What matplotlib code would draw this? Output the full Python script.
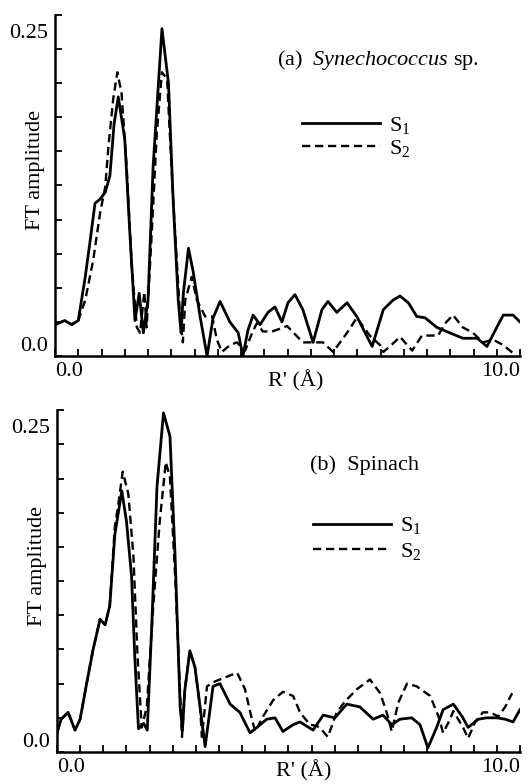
import numpy as np
import matplotlib
matplotlib.use('Agg')
from matplotlib import pyplot as plt
from matplotlib.ticker import MultipleLocator

# panel (a) Synechococcus sp. -- S1 (solid)
r_a_s1 = [0.0, 0.21, 0.36, 0.5, 0.65, 0.75, 0.86, 0.97, 1.08, 1.18, 1.27, 1.36, 1.5, 1.61,
          1.72, 1.81, 1.9, 2.0, 2.11, 2.3, 2.44, 2.54, 2.65, 2.71, 2.76, 2.87, 2.97, 3.12,
          3.27, 3.4, 3.55, 3.76, 3.94, 4.04, 4.15, 4.26, 4.41, 4.58, 4.73, 4.88, 5.01, 5.16,
          5.33, 5.55, 5.74, 5.87, 6.06, 6.28, 6.49, 6.82, 7.06, 7.27, 7.42, 7.6, 7.78, 7.96,
          8.21, 8.49, 8.77, 9.08, 9.29, 9.5, 9.64, 9.85, 10.0]
ft_a_s1 = [0.023, 0.026, 0.023, 0.026, 0.058, 0.083, 0.112, 0.115, 0.12, 0.132, 0.17, 0.19,
           0.159, 0.09, 0.026, 0.046, 0.017, 0.041, 0.139, 0.24, 0.20, 0.115, 0.041, 0.017,
           0.046, 0.079, 0.062, 0.029, 0.0, 0.028, 0.040, 0.025, 0.017, 0.0, 0.019, 0.030,
           0.023, 0.032, 0.036, 0.025, 0.039, 0.045, 0.034, 0.010, 0.034, 0.040, 0.032, 0.039,
           0.029, 0.007, 0.034, 0.041, 0.044, 0.039, 0.029, 0.028, 0.021, 0.017, 0.013, 0.013,
           0.007, 0.021, 0.030, 0.030, 0.025]

# panel (a) -- S2 (dashed)
r_a_s2 = [0.0, 0.21, 0.36, 0.5, 0.65, 0.82, 0.97, 1.08, 1.15, 1.25, 1.34, 1.43, 1.54, 1.65,
          1.76, 1.83, 1.92, 1.97, 2.08, 2.19, 2.3, 2.41, 2.54, 2.69, 2.75, 2.8, 2.94, 3.05,
          3.23, 3.38, 3.48, 3.59, 3.76, 3.91, 4.09, 4.24, 4.34, 4.47, 4.67, 4.84, 4.99, 5.16,
          5.33, 5.55, 5.76, 5.98, 6.13, 6.28, 6.49, 6.77, 6.99, 7.06, 7.2, 7.42, 7.68, 7.89,
          8.24, 8.39, 8.56, 8.77, 8.99, 9.2, 9.42, 9.64, 9.89]
ft_a_s2 = [0.023, 0.026, 0.023, 0.026, 0.041, 0.07, 0.105, 0.124, 0.154, 0.188, 0.208, 0.193,
           0.139, 0.066, 0.021, 0.017, 0.047, 0.021, 0.09, 0.164, 0.208, 0.203, 0.115, 0.029,
           0.01, 0.041, 0.058, 0.041, 0.029, 0.029, 0.012, 0.003, 0.008, 0.010, 0.004, 0.017,
           0.024, 0.018, 0.018, 0.020, 0.022, 0.016, 0.010, 0.010, 0.010, 0.003, 0.010, 0.017,
           0.028, 0.015, 0.008, 0.003, 0.007, 0.014, 0.004, 0.015, 0.015, 0.024, 0.030, 0.021,
           0.017, 0.010, 0.012, 0.008, 0.001]

# panel (b) Spinach -- S1 (solid)
r_b_s1 = [0.0, 0.09, 0.24, 0.39, 0.5, 0.64, 0.78, 0.93, 1.04, 1.14, 1.25, 1.4, 1.5, 1.61,
          1.68, 1.76, 1.87, 1.95, 2.05, 2.16, 2.3, 2.44, 2.55, 2.66, 2.71, 2.76, 2.87, 2.98,
          3.09, 3.2, 3.37, 3.52, 3.74, 3.95, 4.17, 4.32, 4.53, 4.71, 4.88, 5.1, 5.25, 5.53,
          5.75, 6.0, 6.26, 6.54, 6.83, 7.04, 7.23, 7.41, 7.66, 7.84, 8.01, 8.2, 8.34, 8.56,
          8.75, 8.88, 9.1, 9.28, 9.5, 9.68, 9.85, 10.0]
ft_b_s1 = [0.014, 0.024, 0.029, 0.016, 0.024, 0.050, 0.075, 0.097, 0.093, 0.107, 0.159, 0.191,
           0.169, 0.129, 0.07, 0.017, 0.021, 0.016, 0.095, 0.194, 0.248, 0.231, 0.144, 0.033,
           0.016, 0.045, 0.074, 0.062, 0.033, 0.004, 0.048, 0.05, 0.035, 0.029, 0.014, 0.018,
           0.024, 0.025, 0.015, 0.020, 0.022, 0.016, 0.027, 0.025, 0.035, 0.033, 0.024, 0.027,
           0.020, 0.024, 0.025, 0.020, 0.003, 0.018, 0.031, 0.035, 0.026, 0.018, 0.024, 0.025,
           0.025, 0.024, 0.022, 0.031]

# panel (b) -- S2 (dashed)
r_b_s2 = [0.0, 0.09, 0.24, 0.39, 0.5, 0.64, 0.78, 0.93, 1.04, 1.14, 1.25, 1.32, 1.42, 1.54,
          1.65, 1.74, 1.83, 1.94, 2.08, 2.22, 2.35, 2.44, 2.55, 2.7, 2.76, 2.87, 2.98, 3.09,
          3.13, 3.24, 3.37, 3.59, 3.89, 4.06, 4.21, 4.28, 4.45, 4.67, 4.88, 5.1, 5.25, 5.46,
          5.62, 5.75, 5.85, 6.04, 6.22, 6.48, 6.76, 6.98, 7.12, 7.23, 7.37, 7.56, 7.77, 8.06,
          8.24, 8.34, 8.49, 8.56, 8.77, 8.88, 9.03, 9.2, 9.35, 9.53, 9.68, 9.83]
ft_b_s2 = [0.014, 0.024, 0.029, 0.016, 0.024, 0.050, 0.075, 0.097, 0.093, 0.107, 0.165, 0.18,
           0.205, 0.189, 0.144, 0.07, 0.018, 0.033, 0.107, 0.169, 0.212, 0.201, 0.13, 0.011,
           0.045, 0.074, 0.062, 0.033, 0.011, 0.048, 0.051, 0.054, 0.058, 0.046, 0.024, 0.015,
           0.026, 0.038, 0.044, 0.041, 0.029, 0.020, 0.019, 0.015, 0.011, 0.029, 0.037, 0.046,
           0.053, 0.043, 0.029, 0.015, 0.036, 0.05, 0.048, 0.041, 0.026, 0.014, 0.024, 0.03,
           0.018, 0.01, 0.022, 0.029, 0.029, 0.026, 0.033, 0.043]

panels = [
    ((r_a_s1, ft_a_s1), (r_a_s2, ft_a_s2), "(a)  $\\mathit{Synechococcus}$ sp."),
    ((r_b_s1, ft_b_s1), (r_b_s2, ft_b_s2), "(b)  Spinach"),
]

FS = 16


def main():
    plt.rcParams['font.family'] = ['Liberation Serif', 'DejaVu Serif']
    plt.rcParams['mathtext.fontset'] = 'custom'
    plt.rcParams['mathtext.rm'] = 'Liberation Serif'
    plt.rcParams['mathtext.it'] = 'Liberation Serif:italic'

    fig = plt.figure(figsize=(5.31, 7.84), dpi=100)

    # axes rectangles (left, bottom, width, height) in figure fraction
    rects = [(0.1036, 0.5459, 0.8757, 0.435), (0.1073, 0.0408, 0.872, 0.436)]
    title_pos = [(0.477, 0.868), (0.546, 0.839)]
    legend_pos = [(0.498, 0.752), (0.519, 0.738)]
    legend_gap = [0.08, 0.22]

    for i, (s1, s2, title) in enumerate(panels):
        ax = fig.add_axes(rects[i])
        ax.plot(s1[0], s1[1], color='black', linewidth=2.0, label='S$_1$')
        ax.plot(s2[0], s2[1], color='black', linewidth=1.7, linestyle=(0, (3.5, 2)), label='S$_2$')

        ax.set_xlim(0, 10)
        ax.set_ylim(0, 0.25)
        for side in ['top', 'right']:
            ax.spines[side].set_visible(False)
        for side in ['left', 'bottom']:
            ax.spines[side].set_linewidth(1.8)

        ax.xaxis.set_major_locator(MultipleLocator(0.5))
        ax.yaxis.set_major_locator(MultipleLocator(0.025))
        ax.tick_params(axis='both', direction='in', length=5, width=1.3,
                       labelleft=False, labelbottom=False)

        # only the end values are labelled in the original
        ax.text(0.0, -0.018, '0.0', transform=ax.transAxes, ha='left', va='top', fontsize=FS)
        ax.text(1.0, -0.018, '10.0', transform=ax.transAxes, ha='right', va='top', fontsize=FS)
        ax.text(-0.015, 0.0, '0.0', transform=ax.transAxes, ha='right', va='bottom', fontsize=FS)
        ax.text(-0.015, 0.975, '0.25', transform=ax.transAxes, ha='right', va='top', fontsize=FS)

        ax.text(-0.043, 0.545, 'FT amplitude', transform=ax.transAxes, rotation=90,
                ha='center', va='center', fontsize=FS)
        ax.text(title_pos[i][0], title_pos[i][1], title, transform=ax.transAxes,
                ha='left', va='center', fontsize=FS)

        ax.legend(loc='upper left', bbox_to_anchor=legend_pos[i], frameon=False,
                  fontsize=FS, handlelength=3.5, handletextpad=0.4,
                  labelspacing=legend_gap[i], borderpad=0.2)

        if i == 0:
            ax.text(0.518, -0.04, "R' (Å)", transform=ax.transAxes, ha='center', va='top', fontsize=FS)
        else:
            # the scanned figure crops this label at the bottom edge
            fig.text(0.572, 0.003, "R' (Å)", ha='center', va='bottom', fontsize=FS)

    fig.savefig('out.png', dpi=100)


if __name__ == '__main__':
    main()
